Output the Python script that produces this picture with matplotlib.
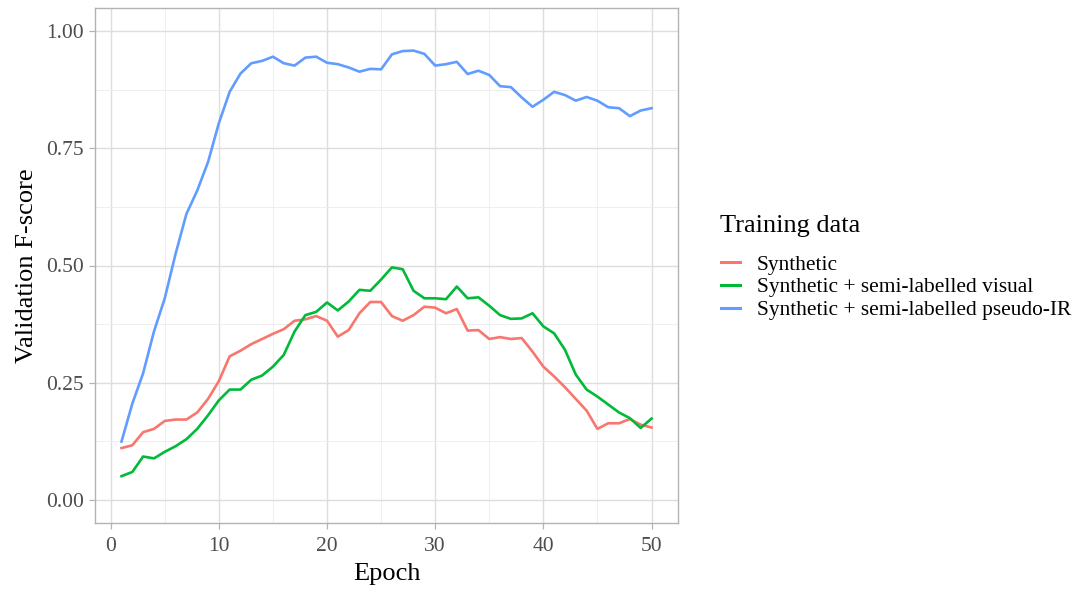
import matplotlib.pyplot as plt
import numpy as np

# validation F-score per epoch
epochs = np.arange(1, 51)

synthetic = [0.110, 0.116, 0.144, 0.151, 0.168, 0.171, 0.171, 0.186, 0.215, 0.253,
             0.306, 0.318, 0.332, 0.343, 0.354, 0.364, 0.382, 0.385, 0.392, 0.382,
             0.348, 0.362, 0.398, 0.422, 0.422, 0.392, 0.382, 0.394, 0.412, 0.410,
             0.398, 0.407, 0.361, 0.362, 0.343, 0.347, 0.343, 0.345, 0.316, 0.284,
             0.263, 0.240, 0.215, 0.190, 0.151, 0.163, 0.163, 0.172, 0.160, 0.154]

semi_visual = [0.050, 0.059, 0.092, 0.088, 0.102, 0.114, 0.129, 0.151, 0.180, 0.212,
               0.235, 0.235, 0.256, 0.265, 0.284, 0.309, 0.359, 0.394, 0.401, 0.421,
               0.404, 0.423, 0.448, 0.446, 0.470, 0.496, 0.492, 0.446, 0.430, 0.430,
               0.428, 0.455, 0.430, 0.432, 0.414, 0.394, 0.386, 0.387, 0.398, 0.370,
               0.355, 0.320, 0.267, 0.235, 0.220, 0.203, 0.186, 0.174, 0.153, 0.173]

semi_pseudo_ir = [0.124, 0.205, 0.270, 0.359, 0.430, 0.525, 0.610, 0.660, 0.721, 0.804,
                  0.871, 0.910, 0.932, 0.937, 0.946, 0.932, 0.927, 0.944, 0.946, 0.933,
                  0.930, 0.923, 0.914, 0.920, 0.919, 0.951, 0.958, 0.959, 0.952, 0.927,
                  0.930, 0.935, 0.909, 0.916, 0.907, 0.883, 0.881, 0.859, 0.839, 0.854,
                  0.871, 0.864, 0.852, 0.860, 0.852, 0.838, 0.836, 0.819, 0.831, 0.836]

series_labels = ['Synthetic', 'Synthetic + semi-labelled visual', 'Synthetic + semi-labelled pseudo-IR']
series_colors = ['#F8766D', '#00BA38', '#619CFF']

plt.rcParams['font.family'] = ['Liberation Serif', 'DejaVu Serif']

fig = plt.figure(figsize=(10.78, 5.90), dpi=100)
ax = fig.add_axes([95 / 1078, 1 - 523 / 590, (678 - 95) / 1078, (523 - 8) / 590])

for vals, lab, col in zip([synthetic, semi_visual, semi_pseudo_ir], series_labels, series_colors):
    ax.plot(epochs, vals, color=col, lw=1.9, label=lab, solid_joinstyle='round', zorder=3)

ax.set_xlim(-1.45, 52.45)
ax.set_ylim(-0.05, 1.05)
ax.set_xticks([0, 10, 20, 30, 40, 50])
ax.set_xticks([5, 15, 25, 35, 45], minor=True)
ax.set_yticks([0, 0.25, 0.5, 0.75, 1.0])
ax.set_yticks([0.125, 0.375, 0.625, 0.875], minor=True)
ax.set_yticklabels(['0.00', '0.25', '0.50', '0.75', '1.00'])

# theme_light look
ax.grid(which='major', color='#DEDEDE', lw=1.0, zorder=0)
ax.grid(which='minor', color='#EDEDED', lw=0.6, zorder=0)
for s in ax.spines.values():
    s.set_color('#B3B3B3')
    s.set_linewidth(1.0)
ax.tick_params(which='major', color='#B3B3B3', length=4, width=0.9, labelsize=15.5,
               labelcolor='#4D4D4D', pad=4)
ax.tick_params(axis='x', which='major', pad=6)
ax.tick_params(which='minor', length=0)

ax.set_xlabel('Epoch', fontsize=19, labelpad=5)
ax.set_ylabel('Validation F-score', fontsize=19, labelpad=6)

fig.text(720 / 1078, 1 - 226 / 590, 'Training data', fontsize=19, ha='left', va='center')
leg = fig.legend(loc='upper left', bbox_to_anchor=(712 / 1078, 1 - 246 / 590), frameon=False,
                 fontsize=15.4, handlelength=0.9, handletextpad=0.8, labelspacing=0.14,
                 borderaxespad=0)
for h in leg.get_lines():
    h.set_linewidth(2.2)

plt.savefig('out.png', dpi=100)
